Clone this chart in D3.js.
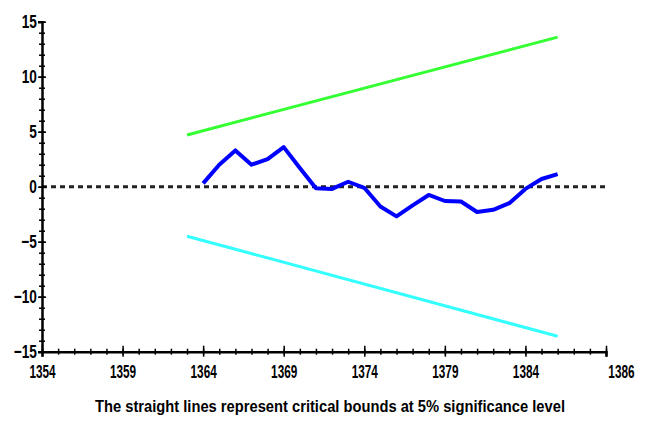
<!DOCTYPE html>
<html>
<head>
<meta charset="utf-8">
<script src="https://cdn.jsdelivr.net/npm/d3@7/dist/d3.min.js"></script>
<style>
body { margin: 0; background: #fff; }
text { font-family: 'Liberation Sans', Arial, sans-serif; fill: #000; }
</style>
</head>
<body>
<div class="svg-container"></div>
<script>
// CUSUM statistic by year
var cusumYears = [1364, 1365, 1366, 1367, 1368, 1369, 1370, 1371, 1372, 1373, 1374, 1375,
	1376, 1377, 1378, 1379, 1380, 1381, 1382, 1383, 1384, 1385, 1386];
var cusumValues = [0.3, 2.0, 3.3, 2.0, 2.5, 3.6, 1.7, -0.15, -0.2, 0.45, -0.1, -1.8,
	-2.7, -1.7, -0.75, -1.3, -1.35, -2.3, -2.1, -1.5, -0.2, 0.7, 1.15];

// 5% critical bounds (straight lines)
var boundYears = [1363, 1386];
var upperBound = [4.7, 13.6];
var lowerBound = [-4.5, -13.6];

var xTickYears = [1354, 1359, 1364, 1369, 1374, 1379, 1384, 1389];
var xTickLabels = ['1354', '1359', '1364', '1369', '1374', '1379', '1384', '1386'];
var yTickValues = [15, 10, 5, 0, -5, -10, -15];
var caption = 'The straight lines represent critical bounds at 5% significance level';

var width = 649;
var height = 445;

var svg = d3.select('.svg-container')
	.append('svg')
	.attr('width', width)
	.attr('height', height);

var xScale = d3.scaleLinear()
	.domain([1354, 1389])
	.range([42, 606]);

var yScale = d3.scaleLinear()
	.domain([-15, 15])
	.range([351.7, 21.7]);

// Zero reference line
svg.append('line')
	.attr('x1', xScale(1354))
	.attr('x2', xScale(1389))
	.attr('y1', yScale(0))
	.attr('y2', yScale(0))
	.attr('stroke', '#222')
	.attr('stroke-width', 3)
	.attr('stroke-dasharray', '5,4');

var line = d3.line()
	.x(function(d) { return xScale(d[0]); })
	.y(function(d) { return yScale(d[1]); });

// Bounds
svg.append('path')
	.datum(d3.zip(boundYears, upperBound))
	.attr('fill', 'none')
	.attr('stroke', '#33ff33')
	.attr('stroke-width', 3)
	.attr('d', line);

svg.append('path')
	.datum(d3.zip(boundYears, lowerBound))
	.attr('fill', 'none')
	.attr('stroke', '#33ffff')
	.attr('stroke-width', 3)
	.attr('d', line);

// CUSUM line
svg.append('path')
	.datum(d3.zip(cusumYears, cusumValues))
	.attr('fill', 'none')
	.attr('stroke', '#0000ff')
	.attr('stroke-width', 4)
	.attr('stroke-linejoin', 'round')
	.attr('d', line);

// X axis: minor ticks then major ticks with labels
var xMinor = svg.append('g')
	.attr('transform', 'translate(0,' + yScale(-15) + ')')
	.call(d3.axisBottom(xScale).tickValues(d3.range(1354, 1390)).tickSize(3).tickFormat(''));
xMinor.selectAll('.tick line').attr('y1', -3).attr('stroke-width', 1.5);

var xAxis = svg.append('g')
	.attr('transform', 'translate(0,' + yScale(-15) + ')')
	.call(d3.axisBottom(xScale).tickValues(xTickYears).tickSize(5).tickPadding(8)
		.tickFormat(function(d, i) { return xTickLabels[i]; }));
xAxis.selectAll('.tick line').attr('y1', -6).attr('stroke-width', 1.5);
xAxis.select('.domain').attr('stroke-width', 2.5);
xAxis.selectAll('.tick text')
	.style('font-size', '19px')
	.style('font-weight', 'bold')
	.attr('transform', 'scale(0.62,1)');
xAxis.selectAll('.tick:last-of-type text')
	.attr('text-anchor', 'start')
	.attr('x', 3);

// Y axis
var yMinor = svg.append('g')
	.attr('transform', 'translate(' + xScale(1354) + ',0)')
	.call(d3.axisLeft(yScale).tickValues(d3.range(-15, 16)).tickSize(3).tickFormat(''));
yMinor.selectAll('.tick line').attr('x1', 3).attr('stroke-width', 1.5);

var yAxis = svg.append('g')
	.attr('transform', 'translate(' + xScale(1354) + ',0)')
	.call(d3.axisLeft(yScale).tickValues(yTickValues).tickSize(4).tickPadding(3));
yAxis.selectAll('.tick line').attr('x1', 4).attr('stroke-width', 1.5);
yAxis.select('.domain').attr('stroke-width', 2.5);
yAxis.selectAll('.tick text')
	.style('font-size', '19px')
	.style('font-weight', 'bold')
	.attr('transform', 'scale(0.72,1)');

// Caption
svg.append('text')
	.attr('x', 330)
	.attr('y', 412)
	.attr('text-anchor', 'middle')
	.attr('textLength', 470)
	.attr('lengthAdjust', 'spacingAndGlyphs')
	.style('font-size', '17px')
	.style('font-weight', 'bold')
	.text(caption);
</script>
</body>
</html>
